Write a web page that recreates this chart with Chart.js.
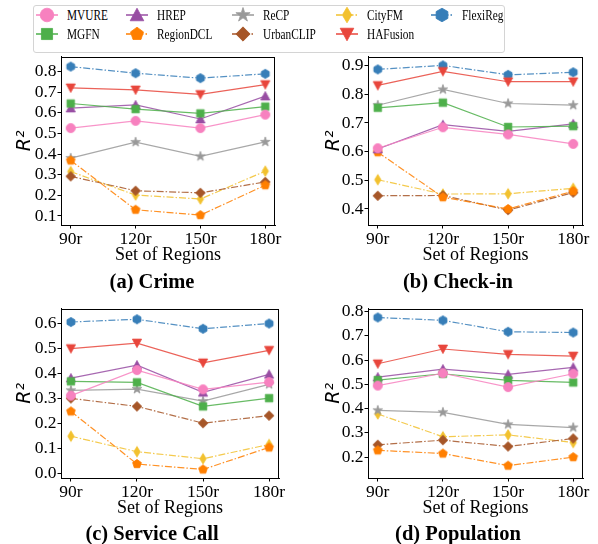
<!DOCTYPE html>
<html><head><meta charset="utf-8">
<script src="https://cdn.jsdelivr.net/npm/chart.js@4/dist/chart.umd.min.js"></script>
<style>
html,body{margin:0;padding:0;background:#fff;}
body{width:598px;height:544px;position:relative;overflow:hidden;font-family:"Liberation Serif",serif;}
canvas.panel{position:absolute;}
#legend{position:absolute;left:33px;top:5px;width:472px;height:48px;border:1px solid #d4d4d4;border-radius:3px;box-sizing:border-box;}
.lm{position:absolute;}
.lt{position:absolute;font-size:14.5px;line-height:16px;color:#000;white-space:nowrap;transform:scaleX(0.78);transform-origin:0 50%;}
.ptitle{position:absolute;width:300px;text-align:center;font-weight:bold;font-size:20.5px;line-height:24px;color:#000;}
</style></head><body>
<div id="legend"></div>
<canvas id="cA" class="panel"></canvas>
<canvas id="cB" class="panel"></canvas>
<canvas id="cC" class="panel"></canvas>
<canvas id="cD" class="panel"></canvas>
<div class="ptitle" style="left:2px;top:269px;">(a) Crime</div>
<div class="ptitle" style="left:308px;top:269px;">(b) Check-in</div>
<div class="ptitle" style="left:2px;top:521px;">(c) Service Call</div>
<div class="ptitle" style="left:308px;top:521px;">(d) Population</div>
<script>
// ---------- data ----------
const methods = ['MVURE','MGFN','HREP','RegionDCL','ReCP','UrbanCLIP','CityFM','HAFusion','FlexiReg'];
const regions = ['90r','120r','150r','180r'];

const crimeValues = [
  [0.526, 0.561, 0.526, 0.591],
  [0.645, 0.618, 0.597, 0.630],
  [0.623, 0.638, 0.570, 0.681],
  [0.369, 0.130, 0.104, 0.249],
  [0.380, 0.458, 0.389, 0.459],
  [0.292, 0.222, 0.212, 0.265],
  [0.315, 0.201, 0.182, 0.317],
  [0.721, 0.711, 0.689, 0.737],
  [0.824, 0.792, 0.768, 0.789]
];
const checkinValues = [
  [0.612, 0.685, 0.660, 0.627],
  [0.753, 0.771, 0.686, 0.689],
  [0.609, 0.694, 0.671, 0.697],
  [0.598, 0.441, 0.400, 0.462],
  [0.762, 0.817, 0.768, 0.762],
  [0.446, 0.447, 0.396, 0.457],
  [0.502, 0.452, 0.453, 0.472],
  [0.831, 0.880, 0.844, 0.844],
  [0.887, 0.901, 0.868, 0.877]
];
const serviceValues = [
  [0.311, 0.413, 0.336, 0.365],
  [0.368, 0.364, 0.268, 0.301],
  [0.381, 0.433, 0.324, 0.396],
  [0.248, 0.038, 0.016, 0.104],
  [0.332, 0.337, 0.289, 0.356],
  [0.300, 0.268, 0.201, 0.231],
  [0.149, 0.087, 0.059, 0.116],
  [0.499, 0.521, 0.442, 0.492],
  [0.605, 0.616, 0.578, 0.599]
];
const populationValues = [
  [0.495, 0.546, 0.489, 0.544],
  [0.518, 0.544, 0.517, 0.508],
  [0.530, 0.563, 0.541, 0.570],
  [0.228, 0.215, 0.165, 0.200],
  [0.393, 0.385, 0.335, 0.322],
  [0.251, 0.270, 0.244, 0.277],
  [0.378, 0.284, 0.292, 0.260],
  [0.585, 0.646, 0.624, 0.617],
  [0.776, 0.764, 0.717, 0.714]
];
const crimeTicks = [0.1, 0.2, 0.3, 0.4, 0.5, 0.6, 0.7, 0.8];
const checkinTicks = [0.4, 0.5, 0.6, 0.7, 0.8, 0.9];
const serviceTicks = [0.0, 0.1, 0.2, 0.3, 0.4, 0.5, 0.6];
const populationTicks = [0.2, 0.3, 0.4, 0.5, 0.6, 0.7, 0.8];

// ---------- styles ----------
const colors = ['#f781bf','#4daf4a','#984ea3','#ff7f00','#999999','#a65628','#f2c12e','#e8463c','#377eb8'];
const shapes = ['circle','square','triUp','pentagon','star','diamond','thinDiamond','triDown','hexagon'];
const dashed = [false,false,false,true,false,true,true,false,true];

function hexA(h,a){const n=parseInt(h.slice(1),16);return `rgba(${n>>16},${(n>>8)&255},${n&255},${a})`;}

function poly(ctx,cx,cy,r,n,start){
  for(let k=0;k<n;k++){const a=start+k*2*Math.PI/n;const x=cx+r*Math.cos(a),y=cy+r*Math.sin(a);k?ctx.lineTo(x,y):ctx.moveTo(x,y);}
}
function drawShape(ctx,shape,cx,cy,r,color){
  ctx.fillStyle=color;ctx.strokeStyle=color;ctx.lineWidth=0.8;ctx.beginPath();
  switch(shape){
    case 'circle': ctx.arc(cx,cy,r,0,Math.PI*2);break;
    case 'square': {const a=r*0.82;ctx.rect(cx-a,cy-a,2*a,2*a);break;}
    case 'triUp': ctx.moveTo(cx,cy-r);ctx.lineTo(cx+r,cy+r*0.85);ctx.lineTo(cx-r,cy+r*0.85);break;
    case 'triDown': ctx.moveTo(cx,cy+r);ctx.lineTo(cx+r,cy-r*0.85);ctx.lineTo(cx-r,cy-r*0.85);break;
    case 'pentagon': poly(ctx,cx,cy,r,5,-Math.PI/2);break;
    case 'hexagon': poly(ctx,cx,cy,r,6,-Math.PI/2);break;
    case 'star': for(let k=0;k<10;k++){const a=-Math.PI/2+k*Math.PI/5;const rr=k%2?r*0.42:r*1.1;const x=cx+rr*Math.cos(a),y=cy+rr*Math.sin(a);k?ctx.lineTo(x,y):ctx.moveTo(x,y);}break;
    case 'diamond': {const a=r*1.05;ctx.moveTo(cx,cy-a);ctx.lineTo(cx+a,cy);ctx.lineTo(cx,cy+a);ctx.lineTo(cx-a,cy);break;}
    case 'thinDiamond': {const a=r*1.15;ctx.moveTo(cx,cy-a);ctx.lineTo(cx+a*0.6,cy);ctx.lineTo(cx,cy+a);ctx.lineTo(cx-a*0.6,cy);break;}
  }
  ctx.closePath();ctx.fill();ctx.stroke();
}
function markerCanvas(shape,color,r){
  const s=Math.ceil(r*2.4)+2;const c=document.createElement('canvas');c.width=s;c.height=s;
  drawShape(c.getContext('2d'),shape,s/2,s/2,r,color);return c;
}
const plotMarkers = shapes.map((s,i)=>markerCanvas(s,colors[i],4.6));

// ---------- legend ----------
const legCols = [47,137,243,347,442];
const legRows = [15,34];
const legend = document.getElementById('legend');
methods.forEach((m,i)=>{
  const col=Math.floor(i/2),row=i%2;
  const cx=legCols[col]-33-1, cy=legRows[row]-5-1;
  const c=document.createElement('canvas');c.width=30;c.height=20;c.className='lm';
  c.style.left=(cx-15)+'px';c.style.top=(cy-10)+'px';
  const g=c.getContext('2d');
  g.strokeStyle=colors[i];g.lineWidth=1.5;
  if(dashed[i]) g.setLineDash([6,2,1.5,2]);
  g.beginPath();g.moveTo(4,10);g.lineTo(26,10);g.stroke();g.setLineDash([]);
  drawShape(g,shapes[i],15,10,6.8,colors[i]);
  legend.appendChild(c);
  const t=document.createElement('span');t.className='lt';t.textContent=m;
  t.style.left=(cx+20)+'px';t.style.top=(cy-8)+'px';
  legend.appendChild(t);
});

// ---------- charts ----------
const boxPlugin={id:'box',afterDraw(chart){const a=chart.chartArea,ctx=chart.ctx;ctx.save();ctx.strokeStyle='#000';ctx.lineWidth=1;
  ctx.strokeRect(Math.round(a.left)+0.5,Math.round(a.top)+0.5,Math.round(a.right-a.left)-1,Math.round(a.bottom-a.top)-1);ctx.restore();}};

function makeChart(p){
  const cv=document.getElementById(p.id);
  cv.width=p.w;cv.height=p.h;cv.style.left=p.left+'px';cv.style.top=p.top+'px';cv.style.width=p.w+'px';cv.style.height=p.h+'px';
  const tickFont={family:'Liberation Serif',size:17.5};
  new Chart(cv,{
    type:'line',
    data:{datasets:methods.map((m,i)=>({
      label:m,
      data:p.values[i].map((v,j)=>({x:j,y:v})),
      borderColor:hexA(colors[i],0.85),
      backgroundColor:colors[i],
      borderWidth:1.2,
      borderDash:dashed[i]?[7,2,1.5,2]:[],
      pointStyle:plotMarkers[i],
      pointRadius:5,pointHoverRadius:5,
      tension:0,fill:false
    }))},
    options:{
      responsive:false,animation:false,
      layout:{padding:{left:0,right:p.padR,top:p.padT,bottom:0}},
      plugins:{legend:{display:false},tooltip:{enabled:false},title:{display:false}},
      scales:{
        x:{type:'linear',min:-0.15,max:3.15,
          afterBuildTicks:s=>{s.ticks=regions.map((_,i)=>({value:i}));},
          afterFit:s=>{s.height=44;},
          ticks:{callback:v=>regions[v],font:tickFont,color:'#000',padding:0,autoSkip:false,maxRotation:0},
          grid:{drawOnChartArea:false,drawTicks:true,tickLength:3.5,color:'#000'},
          border:{display:true,color:'#000',width:1},
          title:{display:true,text:'Set of Regions',font:{family:'Liberation Serif',size:18},color:'#000',padding:{top:0,bottom:3}}
        },
        y:{type:'linear',min:p.min,max:p.max,
          afterBuildTicks:s=>{s.ticks=p.ticks.map(v=>({value:v}));},
          afterFit:s=>{s.width=p.yW;},
          ticks:{callback:v=>v.toFixed(1),font:tickFont,color:'#000',padding:1},
          grid:{drawOnChartArea:false,drawTicks:true,tickLength:3.5,color:'#000'},
          border:{display:true,color:'#000',width:1},
          title:{display:true,text:'R²',font:{family:'DejaVu Sans',size:19,style:'italic'},color:'#000',padding:{top:p.yTitlePad,bottom:0}}
        }
      }
    },
    plugins:[boxPlugin]
  });
}

makeChart({id:'cA',left:0,top:45,w:298,h:224,padT:8,padR:23,yW:61,yTitlePad:14,values:crimeValues,ticks:crimeTicks,min:0.056,max:0.873});
makeChart({id:'cB',left:300,top:45,w:298,h:224,padT:8,padR:15,yW:68,yTitlePad:22.5,values:checkinValues,ticks:checkinTicks,min:0.344,max:0.932});
makeChart({id:'cC',left:0,top:297,w:298,h:225,padT:8,padR:19,yW:61,yTitlePad:14,values:serviceValues,ticks:serviceTicks,min:-0.018,max:0.659});
makeChart({id:'cD',left:300,top:297,w:298,h:225,padT:8,padR:15,yW:68,yTitlePad:22.5,values:populationValues,ticks:populationTicks,min:0.114,max:0.813});
</script>
</body></html>
